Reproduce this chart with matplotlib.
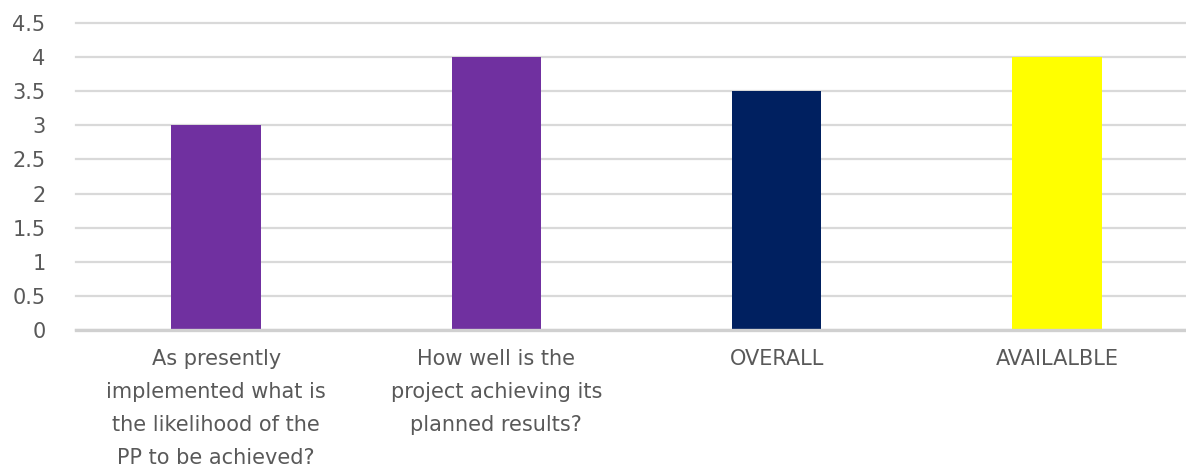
import matplotlib.pyplot as plt

categories = [
    "As presently\nimplemented what is\nthe likelihood of the\nPP to be achieved?",
    "How well is the\nproject achieving its\nplanned results?",
    "OVERALL",
    "AVAILALBLE",
]
scores = [3, 4, 3.5, 4]
bar_colors = ["#7030A0", "#7030A0", "#002060", "#FFFF00"]
y_ticks = [0, 0.5, 1, 1.5, 2, 2.5, 3, 3.5, 4, 4.5]
y_labels = ["0", "0.5", "1", "1.5", "2", "2.5", "3", "3.5", "4", "4.5"]

text_color = "#595959"
plt.rcParams["font.family"] = ["DejaVu Sans"]

fig = plt.figure(figsize=(11.86, 4.70), dpi=100)
# axes runs a little past the right edge, as the gridlines do
ax = fig.add_axes([76 / 1186, 140 / 470, 1121 / 1186, 307 / 470])

x = list(range(len(categories)))
ax.bar(x, scores, width=0.32, color=bar_colors, zorder=3)

ax.set_xlim(-0.5, 3.5)
ax.set_ylim(0, 4.5)
ax.set_yticks(y_ticks)
ax.set_yticklabels(y_labels)
ax.set_xticks(x)
ax.set_xticklabels(categories, linespacing=1.8, va="top")

ax.yaxis.grid(True, color="#D9D9D9", linewidth=1.6, zorder=0)
for gl in ax.get_ygridlines():
    gl.set_clip_on(False)
ax.axhline(0, color="#D0D0D0", linewidth=2.4, zorder=4, clip_on=False)
for side in ["left", "right", "top", "bottom"]:
    ax.spines[side].set_visible(False)

ax.tick_params(axis="y", length=0, pad=22, labelsize=15, labelcolor=text_color)
ax.tick_params(axis="x", length=0, pad=14, labelsize=15, labelcolor=text_color)

fig.savefig("out.png", dpi=100)
